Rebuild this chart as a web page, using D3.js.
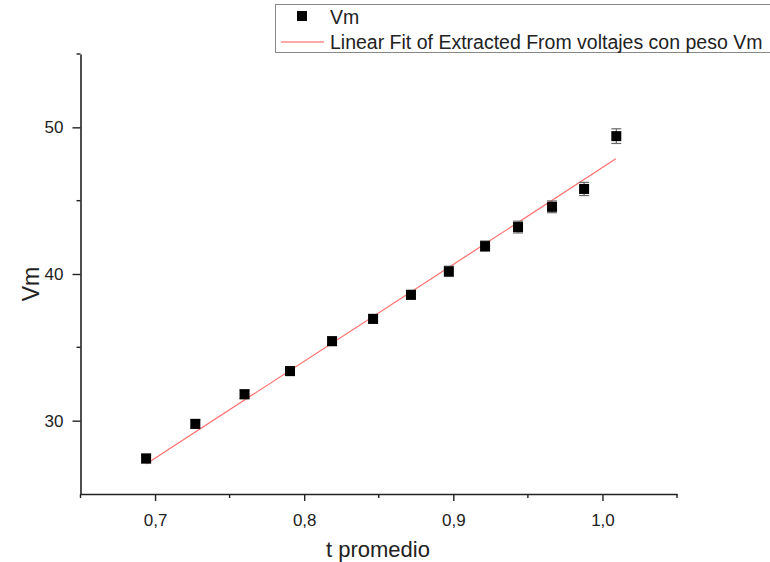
<!DOCTYPE html>
<html>
<head>
<meta charset="utf-8">
<style>
  body { margin: 0; background: #fff; }
  svg { display: block; font-family: "Liberation Sans", Arial, sans-serif; }
</style>
</head>
<body>
<svg width="770" height="562"></svg>
<script src="https://d3js.org/d3.v7.min.js"></script>
<script>
// measured points
var tProm = [0.694, 0.727, 0.760, 0.7905, 0.8187, 0.8462, 0.8716, 0.897, 0.9213, 0.9434, 0.9662, 0.9877, 1.0093];
var vm    = [27.42, 29.78, 31.80, 33.38, 35.42, 36.94, 38.58, 40.18, 41.90, 43.20, 44.58, 45.80, 49.40];
var vmErr = [0.30, 0.30, 0.30, 0.30, 0.30, 0.30, 0.30, 0.35, 0.35, 0.40, 0.40, 0.45, 0.50];

// linear fit endpoints
var fitT = [0.694, 1.009];
var fitV = [27.05, 47.85];

var xTicks = [0.7, 0.8, 0.9, 1.0];
var xMinor = [0.65, 0.75, 0.85, 0.95, 1.05];
var yTicks = [30, 40, 50];
var yMinor = [35, 45, 55];

var svg = d3.select("svg"),
    margin = { top: 54, right: 93, bottom: 68, left: 80.5 },
    width = +svg.attr("width") - margin.left - margin.right,
    height = +svg.attr("height") - margin.top - margin.bottom,
    g = svg.append("g").attr("transform", "translate(" + margin.left + "," + margin.top + ")");

var x = d3.scaleLinear().domain([0.65, 1.05]).range([0, width]);
var y = d3.scaleLinear().domain([25, 55]).range([height, 0]);

var fmt = function (d) { return d3.format(".1f")(d).replace(".", ","); };

// x axis
var xa = g.append("g")
    .attr("transform", "translate(0," + height + ")")
    .call(d3.axisBottom(x).tickValues(xTicks).tickFormat(fmt).tickSize(7).tickSizeOuter(0));
xa.select(".domain").attr("stroke", "#222").attr("stroke-width", 1.6);
xa.selectAll(".tick line").attr("stroke", "#222").attr("stroke-width", 1.4);
xa.selectAll(".tick text").attr("font-size", 17).attr("fill", "#222").attr("dy", "1.3em");
g.append("g").selectAll("line").data(xMinor).enter().append("line")
    .attr("x1", function (d) { return x(d); }).attr("x2", function (d) { return x(d); })
    .attr("y1", height).attr("y2", height + 4)
    .attr("stroke", "#222").attr("stroke-width", 1.4);

// y axis
var ya = g.append("g")
    .call(d3.axisLeft(y).tickValues(yTicks).tickSize(8).tickSizeOuter(0).tickPadding(9));
ya.select(".domain").attr("stroke", "#222").attr("stroke-width", 1.6);
ya.selectAll(".tick line").attr("stroke", "#222").attr("stroke-width", 1.4);
ya.selectAll(".tick text").attr("font-size", 17).attr("fill", "#222");
g.append("g").selectAll("line").data(yMinor).enter().append("line")
    .attr("x1", -4).attr("x2", 0)
    .attr("y1", function (d) { return y(d); }).attr("y2", function (d) { return y(d); })
    .attr("stroke", "#222").attr("stroke-width", 1.4);

// axis titles
svg.append("text").text("t promedio")
    .attr("x", 378).attr("y", 557)
    .attr("text-anchor", "middle").attr("font-size", 22).attr("fill", "#222");
svg.append("text").text("Vm")
    .attr("transform", "translate(39,284) rotate(-90)")
    .attr("text-anchor", "middle").attr("font-size", 23).attr("fill", "#222");

// fit line
var line = d3.line()
    .x(function (d) { return x(d[0]); })
    .y(function (d) { return y(d[1]); });
g.append("path")
    .datum(d3.zip(fitT, fitV))
    .attr("fill", "none")
    .attr("stroke", "#ff5555")
    .attr("stroke-opacity", 0.85)
    .attr("stroke-width", 1.2)
    .attr("d", line);

// error bars
var pts = d3.zip(tProm, vm, vmErr);
var eb = g.append("g").attr("stroke", "#666").attr("stroke-width", 1.2);
pts.forEach(function (p) {
    var cx = x(p[0]);
    eb.append("line").attr("x1", cx).attr("x2", cx).attr("y1", y(p[1] - p[2])).attr("y2", y(p[1] + p[2]));
    eb.append("line").attr("x1", cx - 5).attr("x2", cx + 5).attr("y1", y(p[1] - p[2])).attr("y2", y(p[1] - p[2]));
    eb.append("line").attr("x1", cx - 5).attr("x2", cx + 5).attr("y1", y(p[1] + p[2])).attr("y2", y(p[1] + p[2]));
});

// squares
g.append("g").selectAll("rect")
    .data(pts)
    .enter().append("rect")
    .attr("x", function (d) { return x(d[0]) - 5; })
    .attr("y", function (d) { return y(d[1]) - 5; })
    .attr("width", 10).attr("height", 10)
    .attr("fill", "#000");

// legend
var lg = svg.append("g");
lg.append("rect").attr("x", 275.5).attr("y", 4.5).attr("width", 500).attr("height", 48)
    .attr("fill", "#fff").attr("stroke", "#888").attr("stroke-width", 1);
lg.append("rect").attr("x", 297).attr("y", 11).attr("width", 10).attr("height", 10).attr("fill", "#000");
lg.append("text").text("Vm").attr("x", 330).attr("y", 24).attr("font-size", 19.5).attr("fill", "#222");
lg.append("line").attr("x1", 281).attr("x2", 324).attr("y1", 42).attr("y2", 42)
    .attr("stroke", "#ff5555").attr("stroke-width", 1.2);
lg.append("text").text("Linear Fit of Extracted From voltajes con peso Vm")
    .attr("x", 330).attr("y", 49).attr("font-size", 19.5).attr("fill", "#222");
</script>
</body>
</html>
